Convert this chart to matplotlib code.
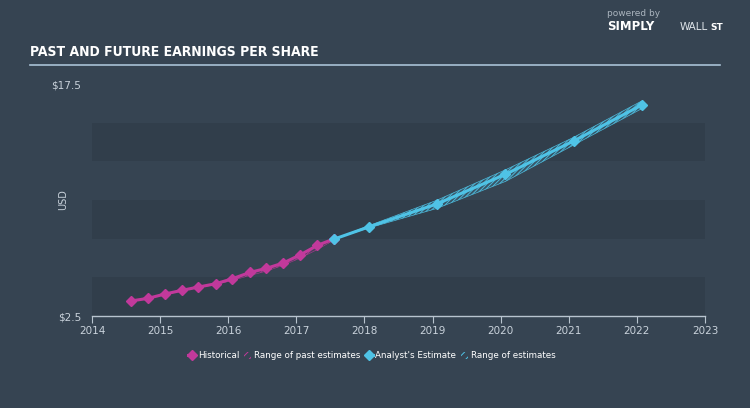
import matplotlib.pyplot as plt
from matplotlib import font_manager

# historical EPS (quarterly points)
histX = [2014.57, 2014.82, 2015.07, 2015.32, 2015.56, 2015.82, 2016.06,
         2016.32, 2016.56, 2016.81, 2017.06, 2017.31, 2017.55]
histY = [3.47, 3.64, 3.92, 4.16, 4.37, 4.59, 4.91, 5.32, 5.58, 5.93, 6.46, 7.07, 7.48]
histLow = [3.45, 3.62, 3.88, 4.12, 4.33, 4.53, 4.80, 5.12, 5.40, 5.78, 6.25, 6.80, 7.40]
histHigh = [3.49, 3.66, 3.94, 4.18, 4.39, 4.61, 4.93, 5.34, 5.60, 5.95, 6.50, 7.10, 7.50]

# analyst estimates
estX = [2017.56, 2018.07, 2019.06, 2020.07, 2021.07, 2022.07]
estY = [7.48, 8.27, 9.74, 11.66, 13.81, 16.14]
estLow = [7.48, 8.20, 9.45, 11.20, 13.55, 15.90]
estHigh = [7.48, 8.35, 9.98, 11.95, 14.05, 16.40]

years = [2014, 2015, 2016, 2017, 2018, 2019, 2020, 2021, 2022, 2023]

bg = '#364452'
band = '#313e4b'
txt = '#c9d2db'
purple = '#c1399b'
cyan = '#4fc3e6'

# look for a narrow font for the title
narrow = None
for f in font_manager.fontManager.ttflist:
    if 'Narrow' in f.name or 'Condensed' in f.name or f.stretch in ('condensed', 'semi-condensed'):
        narrow = f
        break

plt.rcParams['hatch.linewidth'] = 0.7

fig = plt.figure(figsize=(7.5, 4.08), dpi=100, facecolor=bg)
ax = fig.add_axes([92/750, 92/408, 613/750, 232/408], facecolor=bg)

# darker horizontal stripes
for lo in [2.5, 7.5, 12.5]:
    ax.axhspan(lo, lo + 2.5, color=band, lw=0, zorder=0)

# range bands: faint fill + hatch
ax.fill_between(histX, histLow, histHigh, facecolor=purple, alpha=0.15, lw=0, zorder=1)
ax.fill_between(histX, histLow, histHigh, facecolor='none', edgecolor=purple,
                hatch='//////', lw=0.4, alpha=0.8, zorder=2)
ax.fill_between(estX, estLow, estHigh, facecolor=cyan, alpha=0.15, lw=0, zorder=1)
ax.fill_between(estX, estLow, estHigh, facecolor='none', edgecolor=cyan,
                hatch='////////', lw=0.5, alpha=0.9, zorder=2)

ax.plot(histX, histY, color=purple, lw=2.2, marker='D', ms=5, zorder=3)
ax.plot(estX, estY, color=cyan, lw=2.2, marker='D', ms=5, zorder=4)

ax.set_xlim(2014, 2023)
ax.set_ylim(2.5, 17.5)
ax.set_xticks(years)
ax.set_xticklabels([str(y) for y in years])
ax.set_yticks([2.5, 17.5])
ax.set_yticklabels(['$2.5', '$17.5'])
for s in ['top', 'right', 'left']:
    ax.spines[s].set_visible(False)
ax.spines['bottom'].set_color('#b8c4cf')
ax.spines['bottom'].set_linewidth(1)
ax.tick_params(axis='x', colors='#b8c4cf', labelcolor=txt, labelsize=7.5, length=5, pad=2)
ax.tick_params(axis='y', length=0, labelcolor=txt, labelsize=7.5, pad=8)
ax.set_ylabel('USD', color=txt, fontsize=7)
ax.yaxis.set_label_coords(-24/613, 0.5)

# title and rule
if narrow is not None:
    fig.text(30/750, 1 - 52/408, 'PAST AND FUTURE EARNINGS PER SHARE', color='white',
             fontsize=10, fontweight='bold', family=narrow.name, stretch='condensed', va='center')
else:
    fig.text(30/750, 1 - 52/408, 'PAST AND FUTURE EARNINGS PER SHARE', color='white',
             fontsize=7.5, fontweight='bold', va='center')
fig.add_artist(plt.Line2D([30/750, 720/750], [1 - 65/408, 1 - 65/408],
                          color='#a9c2d6', lw=1.2))

# branding
fig.text(607/750, 1 - 14/408, 'powered by', color='#aab4be', fontsize=6.5, va='center')
fig.text(607/750, 1 - 27/408, 'SIMPLY', color='white', fontsize=8.5, fontweight='bold', va='center')
fig.text(680/750, 1 - 27/408, 'WALL', color='#dfe5ea', fontsize=7.5, va='center')
fig.text(710/750, 1 - 27/408, 'ST', color='white', fontsize=6.5, fontweight='bold', va='center')

# legend
h1, = ax.plot([], [], color=purple, lw=2.2, marker='D', ms=5)
h2 = plt.Rectangle((0, 0), 1, 1, facecolor='none', edgecolor=purple, hatch='////', lw=0)
h3, = ax.plot([], [], color=cyan, lw=2.2, marker='D', ms=5)
h4 = plt.Rectangle((0, 0), 1, 1, facecolor='none', edgecolor=cyan, hatch='////', lw=0)
leg = fig.legend([h1, h2, h3, h4],
                 ['Historical', 'Range of past estimates', "Analyst's Estimate", 'Range of estimates'],
                 loc='center', bbox_to_anchor=(372/750, 1 - 356/408), ncol=4, frameon=False,
                 fontsize=6.3, handlelength=0.8, handletextpad=0.3, columnspacing=0.6)
for t in leg.get_texts():
    t.set_color('white')

plt.savefig('out.png', facecolor=bg)
